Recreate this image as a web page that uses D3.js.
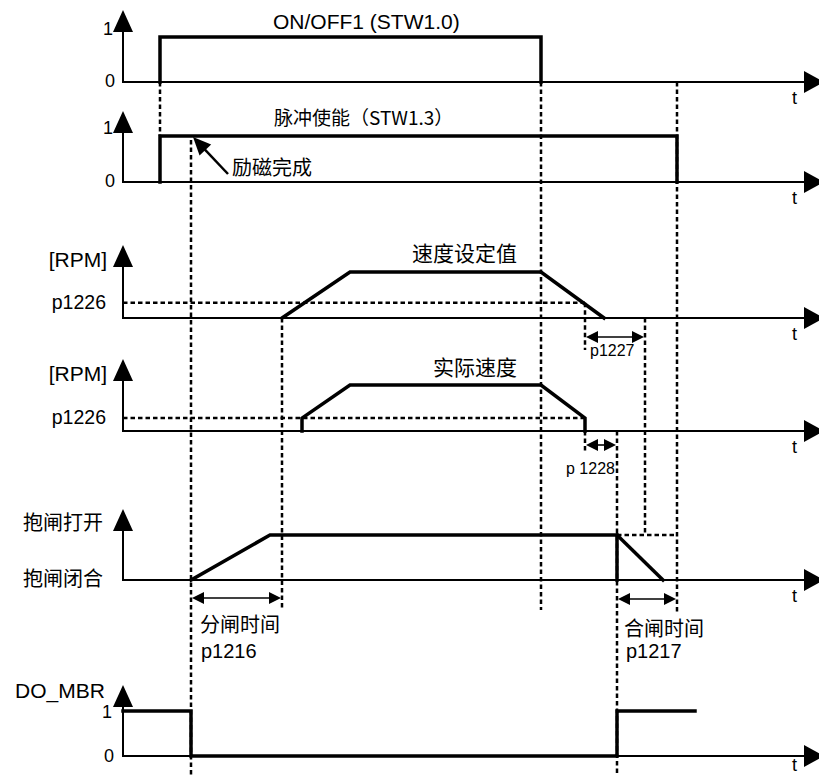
<!DOCTYPE html>
<html><head><meta charset="utf-8">
<script src="https://cdn.jsdelivr.net/npm/d3@7"></script>
<style>body{margin:0;background:#fff}</style>
</head><body>
<svg id="c" width="819" height="776"></svg>
<script>
// ---------------- data ----------------
const timeDomain = [0, 696];
// signal traces: [time, normalised level]
const onOff1        = [[37,0],[37,1],[418,1],[418,0]];
const pulseEnable   = [[37,0],[37,1],[554,1],[554,0]];
const speedSetpoint = [[159,0],[227,1],[418,1],[481,0]];
const actualSpeed   = [[179,0],[179,0.28],[227,1],[418,1],[462,0.28],[462,0]];
const brakeState    = [[68,0],[147,1],[494,1],[494,0]];
const brakeRamp     = [[494,1],[540,0]];
const doMbr         = [[0,1],[68,1],[68,0],[494,0],[494,1],[572,1]];
const p1226Levels   = [0.33, 0.28];           // setpoint panel, actual panel
// event times
const tOn = 37, tExcited = 68, tSetStart = 159, tOff = 418, tP1226 = 462,
      tBrakeClose = 494, tP1227End = 522, tPulseOff = 554;
// texts
const titles = ["ON/OFF1 (STW1.0)", "脉冲使能（STW1.3）", "速度设定值", "实际速度"];
const binaryTicks = ["0", "1"];
const rpmLabel = "[RPM]", p1226Label = "p1226";
const brakeTicks = ["抱闸闭合", "抱闸打开"];
const doLabel = "DO_MBR";
const excitedLabel = "励磁完成";
const intervals = [
  {from: tP1226, to: tP1227End, lines: ["p1227"]},
  {from: tP1226, to: tBrakeClose, lines: ["p 1228"]},
  {from: tExcited, to: tSetStart, lines: ["分闸时间", "p1216"]},
  {from: tBrakeClose, to: tPulseOff, lines: ["合闸时间", "p1217"]}
];

// ---------------- layout ----------------
const svg = d3.select("#c");
const X0 = 123;
const x = d3.scaleLinear().domain(timeDomain).range([X0, 819]);
const P = [
  {base:82,  high:37,  tip:10},
  {base:182, high:136, tip:111},
  {base:318, high:272, tip:245},
  {base:431, high:385, tip:359},
  {base:580, high:535, tip:509},
  {base:756, high:711, tip:685}
].map(p => Object.assign(p, {y: d3.scaleLinear().domain([0,1]).range([p.base, p.high])}));

const LAT = "'Liberation Sans', Arial, sans-serif";
const CJK = "'Noto Sans CJK SC', sans-serif";

// axes
P.forEach((p, i) => {
  svg.append("line").attr("x1", X0).attr("y1", p.base).attr("x2", X0).attr("y2", p.tip + 15)
     .attr("stroke", "#000").attr("stroke-width", 2);
  svg.append("path").attr("d", `M${X0},${p.tip} L${X0-10},${p.tip+22} L${X0+10},${p.tip+22} Z`).attr("fill", "#000");
  svg.append("line").attr("x1", X0 - 1).attr("y1", p.base).attr("x2", 808).attr("y2", p.base)
     .attr("stroke", "#000").attr("stroke-width", 2);
  svg.append("path").attr("d", `M824,${p.base} L804,${p.base-11} L804,${p.base+11} Z`).attr("fill", "#000");
  svg.append("text").attr("x", 792).attr("y", Math.min(p.base + 22, 771)).attr("font-family", LAT)
     .attr("font-size", 18).text("t");
});

// dashed guides
const dashed = (x1, y1, x2, y2) => svg.append("line").attr("x1", x1).attr("y1", y1).attr("x2", x2).attr("y2", y2)
   .attr("stroke", "#000").attr("stroke-width", 2.5).attr("stroke-dasharray", "4.5,3");
dashed(x(tOn), P[0].base, x(tOn), P[1].high);
dashed(x(tExcited), P[1].high + 4, x(tExcited), 776);
dashed(x(tOff), P[0].base, x(tOff), P[4].base + 30);
dashed(x(tPulseOff), P[0].base, x(tPulseOff), P[4].base + 32);
dashed(x(tSetStart), P[2].base, x(tSetStart), P[4].base + 28);
dashed(x(tP1226), P[2].y(p1226Levels[0]), x(tP1226), P[2].base + 32);
dashed(x(tP1226), P[3].base, x(tP1226), P[3].base + 22);
dashed(x(tP1227End), P[2].base, x(tP1227End), P[4].high);
dashed(x(tBrakeClose), P[3].base, x(tBrakeClose), 776);
dashed(X0, P[2].y(p1226Levels[0]), x(tP1226), P[2].y(p1226Levels[0]));
dashed(X0, P[3].y(p1226Levels[1]), x(tP1226), P[3].y(p1226Levels[1]));
dashed(x(tBrakeClose), P[4].high, x(tPulseOff), P[4].high);

// signal traces
const traces = [[onOff1,0],[pulseEnable,1],[speedSetpoint,2],[actualSpeed,3],[brakeState,4],[brakeRamp,4],[doMbr,5]];
traces.forEach(([data, i]) => {
  const line = d3.line().x(d => x(d[0])).y(d => P[i].y(d[1]));
  svg.append("path").attr("d", line(data)).attr("fill", "none").attr("stroke", "#000")
     .attr("stroke-width", 3.5).attr("stroke-linejoin", "miter").attr("stroke-linecap", "square");
});

// interval arrows
const iy = [P[2].base + 19, P[3].base + 14, P[4].base + 18, P[4].base + 19];
function dimArrow(x1, x2, yy) {
  svg.append("line").attr("x1", x1 + 6).attr("y1", yy).attr("x2", x2 - 6).attr("y2", yy)
     .attr("stroke", "#000").attr("stroke-width", 1.6);
  svg.append("path").attr("d", `M${x1+1},${yy} L${x1+13},${yy-6} L${x1+13},${yy+6} Z`).attr("fill", "#000");
  svg.append("path").attr("d", `M${x2-1},${yy} L${x2-13},${yy-6} L${x2-13},${yy+6} Z`).attr("fill", "#000");
}
intervals.forEach((iv, k) => dimArrow(x(iv.from), x(iv.to), iy[k]));

// interval labels
svg.append("text").attr("x", 590).attr("y", 356).attr("font-family", LAT).attr("font-size", 16).text(intervals[0].lines[0]);
svg.append("text").attr("x", 566).attr("y", 474).attr("font-family", LAT).attr("font-size", 16).text(intervals[1].lines[0]);
svg.append("text").attr("x", 200).attr("y", 632).attr("font-family", CJK).attr("font-size", 20).text(intervals[2].lines[0]);
svg.append("text").attr("x", 201).attr("y", 658).attr("font-family", LAT).attr("font-size", 20).text(intervals[2].lines[1]);
svg.append("text").attr("x", 624).attr("y", 636).attr("font-family", CJK).attr("font-size", 20).text(intervals[3].lines[0]);
svg.append("text").attr("x", 626).attr("y", 658).attr("font-family", LAT).attr("font-size", 20).text(intervals[3].lines[1]);

// excitation arrow
(function() {
  const tipX = x(tExcited) + 2, tipY = P[1].high + 1, endX = 228, endY = 174;
  const dx = endX - tipX, dy = endY - tipY, L = Math.hypot(dx, dy), ux = dx / L, uy = dy / L;
  const hl = 18, hw = 8;
  const bx = tipX + ux * hl, by = tipY + uy * hl;
  svg.append("line").attr("x1", bx - ux * 2).attr("y1", by - uy * 2).attr("x2", endX).attr("y2", endY)
     .attr("stroke", "#000").attr("stroke-width", 2.5);
  svg.append("path").attr("d", `M${tipX},${tipY} L${bx - uy*hw},${by + ux*hw} L${bx + uy*hw},${by - ux*hw} Z`).attr("fill", "#000");
})();
svg.append("text").attr("x", 232).attr("y", 175).attr("font-family", CJK).attr("font-size", 20).text(excitedLabel);

// titles
svg.append("text").attr("x", 273).attr("y", 29).attr("font-family", LAT).attr("font-size", 21).text(titles[0]);
svg.append("text").attr("x", 274).attr("y", 125).attr("font-family", CJK).attr("font-size", 19).text(titles[1]);
svg.append("text").attr("x", 412).attr("y", 261).attr("font-family", CJK).attr("font-size", 21).text(titles[2]);
svg.append("text").attr("x", 433).attr("y", 375).attr("font-family", CJK).attr("font-size", 21).text(titles[3]);

// y labels
[0, 1].forEach(i => {
  svg.append("text").attr("x", 115).attr("y", P[i].base + 5).attr("text-anchor", "end").attr("font-family", LAT).attr("font-size", 18).text(binaryTicks[0]);
  svg.append("text").attr("x", 113).attr("y", P[i].high - 2).attr("text-anchor", "end").attr("font-family", LAT).attr("font-size", 18).text(binaryTicks[1]);
});
[2, 3].forEach(i => {
  svg.append("text").attr("x", 107).attr("y", P[i].tip + 22).attr("text-anchor", "end").attr("font-family", LAT).attr("font-size", 21).text(rpmLabel);
  svg.append("text").attr("x", 106).attr("y", P[i].y(p1226Levels[i-2]) + 6).attr("text-anchor", "end").attr("font-family", LAT).attr("font-size", 19.5).text(p1226Label);
});
svg.append("text").attr("x", 103).attr("y", P[4].high - 5).attr("text-anchor", "end").attr("font-family", CJK).attr("font-size", 20).text(brakeTicks[1]);
svg.append("text").attr("x", 103).attr("y", P[4].base + 6).attr("text-anchor", "end").attr("font-family", CJK).attr("font-size", 20).text(brakeTicks[0]);
svg.append("text").attr("x", 15).attr("y", 698).attr("font-family", LAT).attr("font-size", 21).text(doLabel);
svg.append("text").attr("x", 112).attr("y", P[5].high + 7).attr("text-anchor", "end").attr("font-family", LAT).attr("font-size", 18).text(binaryTicks[1]);
svg.append("text").attr("x", 114).attr("y", P[5].base + 6).attr("text-anchor", "end").attr("font-family", LAT).attr("font-size", 18).text(binaryTicks[0]);
</script>
</body></html>
